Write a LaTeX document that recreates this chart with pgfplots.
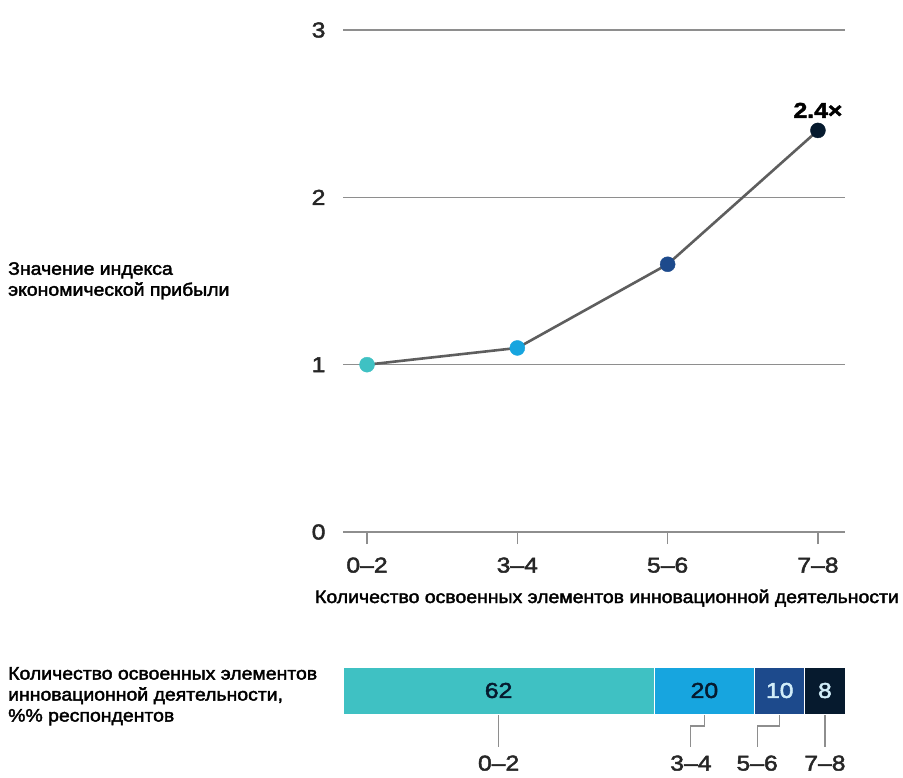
\documentclass[border=0pt]{standalone}
\usepackage{fontspec}
\setmainfont{Liberation Sans}[FakeStretch=1.08, FakeBold=2.2]
\setsansfont{Liberation Sans}[FakeStretch=1.08, FakeBold=2.2]
\newfontfamily\numfont{Liberation Sans}[FakeStretch=1.15, FakeBold=2.2]
\usepackage{pgfplots}
\pgfplotsset{compat=1.18}
\definecolor{cTeal}{HTML}{3FC1C3}
\definecolor{cCyan}{HTML}{17A5DF}
\definecolor{cBlue}{HTML}{1D4A8C}
\definecolor{cNavy}{HTML}{061A2E}
\definecolor{gridc}{HTML}{8E8E8E}
\definecolor{linec}{HTML}{5E5E5E}
\newcommand{\lblfont}{\fontsize{18}{21}\selectfont}
\newcommand{\tickfont}{\numfont\fontsize{21.5}{24}\selectfont}
\begin{document}
\begin{tikzpicture}[x=1pt,y=1pt]
\useasboundingbox (0,0) rectangle (903,-778);
\begin{axis}[
  at={(343pt,-532pt)}, anchor=south west,
  scale only axis, width=502pt, height=502pt,
  xmin=-0.16, xmax=3.18, ymin=0, ymax=3,
  clip=false,
  axis x line*=bottom, axis y line*=left,
  y axis line style={draw=none},
  x axis line style={gridc, line width=1.6pt},
  xtick={0,1,2,3}, xticklabels={0–2,3–4,5–6,7–8},
  ytick={0,1,2,3},
  xtick align=outside, major tick length=12pt,
  xtick style={gridc, line width=1.6pt},
  ytick style={draw=none},
  ymajorgrids, major grid style={gridc, line width=1.6pt},
  tick label style={font=\tickfont, text=black!85},
  yticklabel style={xshift=-14pt},
  xticklabel style={yshift=-10pt},
  /pgf/number format/assume math mode=true,
]
\addplot[linec, line width=2.6pt, mark=none] coordinates {(0,1) (1,1.1) (2,1.6) (3,2.4)};
\addplot[only marks, mark=*, mark size=7.5pt, mark options={fill=cTeal, draw=cTeal}] coordinates {(0,1)};
\addplot[only marks, mark=*, mark size=7.5pt, mark options={fill=cCyan, draw=cCyan}] coordinates {(1,1.1)};
\addplot[only marks, mark=*, mark size=7.5pt, mark options={fill=cBlue, draw=cBlue}] coordinates {(2,1.6)};
\addplot[only marks, mark=*, mark size=7.5pt, mark options={fill=cNavy, draw=cNavy}] coordinates {(3,2.4)};
\node[anchor=south, font=\bfseries\tickfont, yshift=9pt] at (axis cs:3,2.4) {2.4×};
\end{axis}

\node[anchor=base, font=\lblfont] at (607,-603) {Количество освоенных элементов инновационной деятельности};
\node[anchor=north west, align=left, font=\lblfont, inner sep=0pt] at (8,-262) {Значение индекса\\экономической прибыли};
\node[anchor=north west, align=left, font=\lblfont, inner sep=0pt] at (8,-667) {Количество освоенных элементов\\инновационной деятельности,\\\%\% респондентов};

\begin{axis}[
  at={(343pt,-714pt)}, anchor=south west,
  scale only axis, width=502pt, height=47pt,
  xmin=0, xmax=100, ymin=-0.5, ymax=0.5,
  hide axis, clip=false,
  xbar stacked, bar width=47pt,
]
\addplot[fill=cTeal, draw=white, line width=0.8pt] coordinates {(62,0)};
\addplot[fill=cCyan, draw=white, line width=0.8pt] coordinates {(20,0)};
\addplot[fill=cBlue, draw=white, line width=0.8pt] coordinates {(10,0)};
\addplot[fill=cNavy, draw=white, line width=0.8pt] coordinates {(8,0)};
\coordinate (c1) at (axis cs:31,0);
\coordinate (c2) at (axis cs:72,0);
\coordinate (c3) at (axis cs:87,0);
\coordinate (c4) at (axis cs:96,0);
\draw[gridc, line width=1.2pt] (axis cs:31,-0.5) -- ++(0pt,-33pt);
\draw[gridc, line width=1.2pt] (axis cs:72,-0.5) -- ++(0pt,-12pt) -| ([yshift=-33pt]axis cs:69.3,-0.5);
\draw[gridc, line width=1.2pt] (axis cs:87,-0.5) -- ++(0pt,-12pt) -| ([yshift=-33pt]axis cs:82.5,-0.5);
\draw[gridc, line width=1.2pt] (axis cs:96,-0.5) -- ++(0pt,-33pt);
\node[font=\tickfont, text=black!85, anchor=north] at ([yshift=-38pt]axis cs:31,-0.5) {0–2};
\node[font=\tickfont, text=black!85, anchor=north] at ([yshift=-38pt]axis cs:69.3,-0.5) {3–4};
\node[font=\tickfont, text=black!85, anchor=north] at ([yshift=-38pt]axis cs:82.5,-0.5) {5–6};
\node[font=\tickfont, text=black!85, anchor=north] at ([yshift=-38pt]axis cs:96,-0.5) {7–8};
\end{axis}
\node[font=\tickfont, text=cNavy] at (c1) {62};
\node[font=\tickfont, text=cNavy] at (c2) {20};
\node[font=\tickfont, text=white!80!cCyan] at (c3) {10};
\node[font=\tickfont, text=white!80!cCyan] at (c4) {8};
\end{tikzpicture}
\end{document}
